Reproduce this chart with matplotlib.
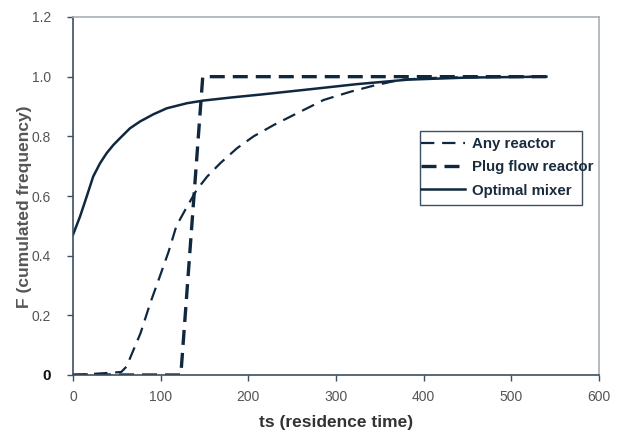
import matplotlib
matplotlib.use("Agg")
import matplotlib.pyplot as plt
from matplotlib.patches import Rectangle

plt.rcParams['font.family'] = ['Liberation Sans', 'DejaVu Sans']

# Residence time distributions (cumulated frequency F vs residence time ts)
any_x = [0, 30, 55, 61, 69, 77, 88, 99, 109, 118, 130, 141, 153, 168, 187, 206, 229, 252,
         286, 317, 343, 374, 420, 480, 540]
any_y = [0, 0.005, 0.01, 0.028, 0.084, 0.14, 0.24, 0.33, 0.413, 0.50, 0.564, 0.62, 0.665,
         0.71, 0.76, 0.80, 0.838, 0.872, 0.922, 0.95, 0.97, 0.99, 0.997, 0.999, 1.0]

plug_x = [0, 123, 148, 540]
plug_y = [0, 0, 1.0, 1.0]

mix_x = [0, 8, 15.6, 23, 30.9, 38.5, 46, 53.7, 65, 76.6, 91.8, 107, 130, 149, 183, 214,
         271, 324, 382, 450, 540]
mix_y = [0.47, 0.531, 0.598, 0.665, 0.71, 0.744, 0.771, 0.794, 0.827, 0.85, 0.874, 0.894,
         0.911, 0.92, 0.931, 0.94, 0.958, 0.975, 0.99, 0.997, 1.0]

series_labels = ["Any reactor", "Plug flow reactor", "Optimal mixer"]

x_ticks = [0, 100, 200, 300, 400, 500, 600]
y_ticks = [0, 0.2, 0.4, 0.6, 0.8, 1.0, 1.2]
y_tick_labels = ["0", "0.2", "0.4", "0.6", "0.8", "1.0", "1.2"]

navy = "#10283f"

fig = plt.figure(figsize=(6.17, 4.32), dpi=100)
ax = fig.add_axes([73 / 617, 1 - 375 / 432, 526 / 617, 358 / 432])

l1, = ax.plot(any_x, any_y, color=navy, lw=1.6, linestyle=(0, (6.0, 3.5)),
              label=series_labels[0])
l2, = ax.plot(plug_x, plug_y, color=navy, lw=2.4, linestyle=(0, (4.5, 2.4)),
              label=series_labels[1])
l3, = ax.plot(mix_x, mix_y, color=navy, lw=1.8, linestyle='-',
              label=series_labels[2])

ax.set_xlim(0, 600)
ax.set_ylim(0, 1.2)
ax.set_xticks(x_ticks)
ax.set_yticks(y_ticks)
ax.set_xticklabels([str(v) for v in x_ticks])
ax.set_yticklabels(y_tick_labels)

for side in ("top", "right"):
    ax.spines[side].set_color("#a7b0b8")
    ax.spines[side].set_linewidth(1.2)
for side in ("left", "bottom"):
    ax.spines[side].set_color("#3c4f60")
    ax.spines[side].set_linewidth(1.2)

ax.tick_params(axis='both', direction='out', length=4, width=1.0, color="#3c4f60",
               labelcolor="#555555", labelsize=10)
ax.tick_params(axis='y', pad=12)
ax.tick_params(axis='x', pad=7)

zero_lbl = ax.get_yticklabels()[0]
zero_lbl.set_fontweight('bold')
zero_lbl.set_color('#111111')
zero_lbl.set_fontsize(11)

ax.set_xlabel("ts (residence time)", fontsize=12.5, fontweight='bold', color="#333333",
              labelpad=8)
ax.set_ylabel("F (cumulated frequency)", fontsize=12.5, fontweight='bold', color="#555555")
ax.yaxis.set_label_coords(-0.078, 0.47)

# Legend box drawn separately so the long label can run past its edge
box = Rectangle(((420 - 73) / 526, (375 - 205) / 358), (582 - 420) / 526, (205 - 131) / 358,
                transform=ax.transAxes, fill=False, edgecolor="#3c4f60", lw=1.0, zorder=4)
ax.add_patch(box)
leg = ax.legend(handles=[l1, l2, l3], loc='upper left',
                bbox_to_anchor=((421 - 73) / 526, (375 - 137) / 358),
                frameon=False, borderaxespad=0, borderpad=0,
                handlelength=2.9, handletextpad=0.5, labelspacing=0.62,
                prop={'weight': 'bold', 'size': 10.8})
for t in leg.get_texts():
    t.set_color("#1a2b3c")

fig.savefig("out.png", dpi=100)
